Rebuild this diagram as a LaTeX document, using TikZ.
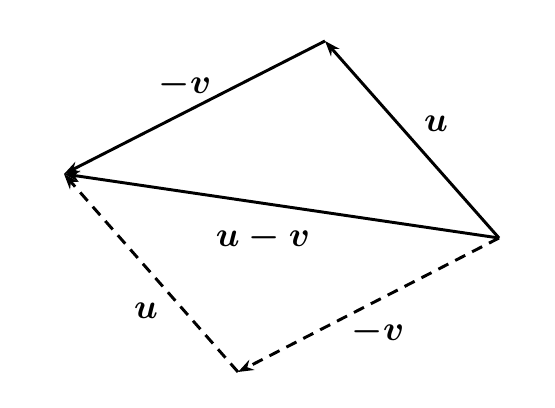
\documentclass[tikz,border=0pt]{standalone}
\usepackage{amsmath}
\usepackage{bm}
\usetikzlibrary{arrows.meta}
\newcommand{\vecwidth}{2.1pt}
\newcommand{\lblsize}{\Huge}

\begin{document}
\begin{tikzpicture}[
    vec/.style={line width=\vecwidth, -{Stealth[length=11pt,width=8pt]}},
    dashvec/.style={vec, dash pattern=on 8pt off 5.5pt},
    lbl/.style={font=\lblsize\boldmath}
]
\useasboundingbox (0,0) rectangle (13.875,-10.2);

\coordinate (T) at (8.125,-1.025);
\coordinate (L) at (1.6,-4.35);
\coordinate (R) at (12.475,-5.95);
\coordinate (B) at (5.95,-9.3);

\draw[vec] (R) -- (T);
\draw[vec] (T) -- (L);
\draw[vec] (R) -- (L);
\draw[dashvec] (R) -- (B);
\draw[dashvec] (B) -- (L);

\node[lbl] at (4.625,-2.125) (mvTop) {$-\bm{v}$};
\node[lbl] at (10.9,-3.1) (uRight) {$\bm{u}$};
\node[lbl] at (6.575,-5.95) (uMv) {$\bm{u}-\bm{v}$};
\node[lbl] at (3.65,-7.775) (uLeft) {$\bm{u}$};
\node[lbl] at (9.45,-8.3) (mvBot) {$-\bm{v}$};
\end{tikzpicture}
\end{document}
